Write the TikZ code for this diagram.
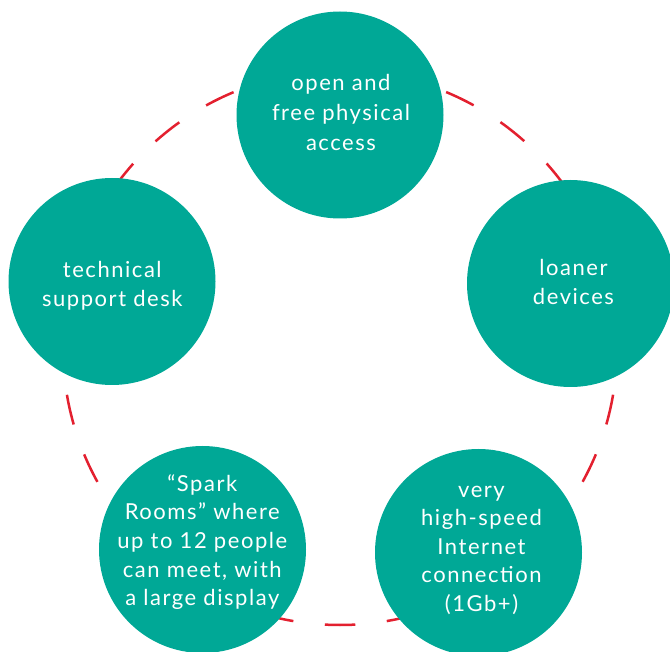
\documentclass[tikz,border=0pt]{standalone}
\usepackage{fontspec}
\setmainfont{Lato}[LetterSpace=7]
\definecolor{bubbleteal}{HTML}{00A896}
\definecolor{ringred}{HTML}{E3202F}
\begin{document}
\begin{tikzpicture}[x=1pt,y=-1pt,
  bubble/.style={circle, fill=bubbleteal, minimum size=207pt, inner sep=0pt},
  lbl/.style={text=white, align=center, inner sep=0pt, font=\fontsize{22}{28.6}\selectfont},
  ring/.style={draw=ringred, line width=2.5pt, dash pattern=on 30.5pt off 31.66pt, dash phase=15.25pt}]
\useasboundingbox (0,0) rectangle (670,652);
\clip (0,0) rectangle (670,652);
\coordinate (o) at (340,348);
\draw[ring] (o) circle [radius=277];
\node[bubble] (top) at (340,115) {};
\node[bubble] (right) at (570.5,283.5) {};
\node[bubble] (left) at (112,281.5) {};
\node[bubble] (bl) at (202.5,549.5) {};
\node[bubble] (br) at (478.5,552.5) {};
\node[lbl, font=\fontsize{22}{30}\selectfont] (toptext) at (341,112) {open and\\free physical\\access};
\node[lbl] (righttext) at (573.5,282) {loaner\\devices};
\node[lbl] (lefttext) at (112.3,285.5) {technical\\support desk};
\node[lbl] (bltext) at (202.3,542) {“Spark\\Rooms” where\\up to 12 people\\can meet, with\\a large display};
\node[lbl] (brtext) at (481.5,550.3) {very\\high-speed\\Internet\\connection\\(1Gb+)};
\end{tikzpicture}
\end{document}
